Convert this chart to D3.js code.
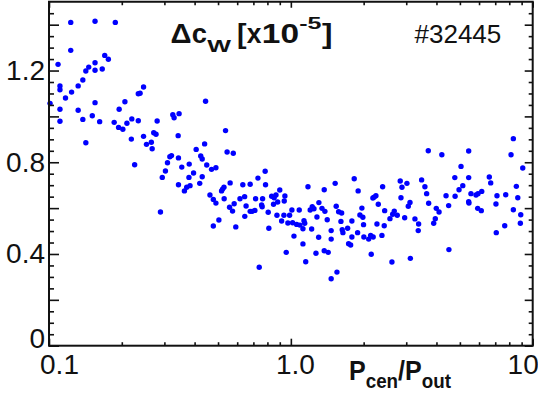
<!DOCTYPE html>
<html><head><meta charset="utf-8">
<script src="https://cdn.jsdelivr.net/npm/d3@7"></script>
<style>body{margin:0;background:#fff}svg{display:block}</style>
</head><body>
<svg id="c" width="538" height="398"></svg>
<script>
// ---- data ----
const pRatio = [
0.123,0.155,0.188,0.123,0.109,0.170,0.176,0.146,0.155,0.142,0.155,0.166,0.138,0.132,0.111,0.111,0.124,0.117,0.101,0.155,
0.111,0.132,0.151,0.111,0.138,0.162,0.142,0.246,0.234,0.238,0.206,0.195,0.220,0.234,0.186,0.194,0.202,0.210,0.280,0.325,
0.246,0.271,0.277,0.219,0.253,0.265,0.267,0.226,0.316,0.321,0.309,0.303,0.294,0.289,
0.444,0.329,0.345,0.342,0.537,0.440,0.406,0.545,0.578,0.343,0.424,0.430,0.354,0.380,0.449,0.470,0.490,0.396,0.379,0.430,
0.343,0.383,0.371,0.363,0.420,0.561,0.522,0.529,0.517,0.463,0.478,0.530,0.616,0.644,0.633,0.679,0.731,0.783,0.786,0.900,
0.833,0.868,0.853,0.945,0.715,0.764,
0.490,0.583,0.558,0.574,0.653,0.645,0.679,0.692,0.710,0.757,0.761,0.806,0.848,0.882,0.939,0.876,0.936,0.988,0.916,0.972,
1.017,1.010,1.030,0.957,0.740,0.504,0.478,0.592,0.811,
1.828,1.525,1.177,1.374,1.898,2.396,2.833,3.020,2.880,1.306,1.540,1.226,1.246,1.202,1.083,1.345,1.383,1.576,1.622,1.967,
2.184,2.248,2.211,2.299,2.853,3.059,2.443,2.677,2.636,2.754,2.956,2.569,1.282,1.930,1.985,1.414,1.611,1.788,1.057,1.090,
1.133,1.141,1.122,1.219,1.998,2.270,2.433,1.631,1.642,1.717,1.468,1.888,1.303,1.468,1.788,2.004,2.138,2.190,2.098,2.380,
1.122,1.733,1.767,1.270,1.374,1.427,2.150,1.152,2.618,3.120,1.551,1.468,
8.317,3.700,4.210,5.436,8.135,9.096,5.054,4.764,5.436,6.615,6.705,3.473,3.583,3.643,4.959,5.139,4.777,4.383,5.555,5.830,
5.940,6.155,5.436,5.450,5.923,6.131,7.118,7.735,8.558,8.675,7.049,8.317,8.925,8.892,7.662,7.069,3.109,3.714,3.993,4.100,
4.492,3.259,3.375,3.363,3.956,3.896,4.504
];
const deltaCw = [
1.410,1.415,1.410,1.288,1.227,1.266,1.249,1.215,1.234,1.198,1.201,1.207,1.159,1.133,1.133,1.116,1.106,1.080,1.057,1.060,
1.031,1.027,1.003,0.979,0.987,0.977,0.885,1.128,1.099,1.101,1.064,1.031,0.989,0.981,0.974,0.952,0.944,0.970,0.980,1.007,
0.913,0.929,0.922,0.901,0.878,0.887,0.859,0.789,0.824,0.829,0.798,0.762,0.734,0.583,
1.066,0.994,1.012,0.916,0.938,0.880,0.856,0.845,0.839,0.819,0.827,0.814,0.779,0.792,0.788,0.769,0.776,0.753,0.734,0.737,
0.702,0.698,0.691,0.675,0.708,0.710,0.683,0.691,0.675,0.657,0.638,0.641,0.641,0.650,0.702,0.704,0.731,0.761,0.702,0.679,
0.652,0.657,0.645,0.653,0.641,0.641,
0.622,0.619,0.604,0.587,0.609,0.564,0.586,0.586,0.590,0.614,0.606,0.582,0.617,0.627,0.631,0.569,0.569,0.569,0.544,0.535,
0.536,0.592,0.478,0.407,0.342,0.548,0.522,0.518,0.512,
0.728,0.708,0.693,0.680,0.675,0.693,0.718,0.708,0.691,0.624,0.608,0.606,0.597,0.592,0.592,0.599,0.586,0.584,0.579,0.600,
0.644,0.654,0.648,0.617,0.645,0.608,0.589,0.587,0.573,0.569,0.558,0.554,0.561,0.570,0.560,0.549,0.542,0.544,0.529,0.526,
0.545,0.534,0.510,0.509,0.528,0.531,0.523,0.506,0.493,0.512,0.502,0.493,0.473,0.465,0.474,0.474,0.481,0.474,0.465,0.481,
0.444,0.445,0.439,0.403,0.414,0.407,0.399,0.366,0.365,0.381,0.321,0.292,
0.903,0.850,0.833,0.849,0.833,0.775,0.782,0.733,0.733,0.736,0.710,0.723,0.693,0.663,0.680,0.698,0.652,0.654,0.663,0.657,
0.663,0.673,0.628,0.622,0.599,0.589,0.654,0.658,0.695,0.645,0.618,0.593,0.571,0.534,0.523,0.493,0.625,0.621,0.599,0.583,
0.611,0.553,0.531,0.502,0.554,0.534,0.419
];
const xMajorTicks = [0.1, 1, 10];
const xMajorLabels = ["0.1", "1.0", "10"];
const xMinorTicks = [0.2,0.3,0.4,0.5,0.6,0.7,0.8,0.9,2,3,4,5,6,7,8,9];
const yMajorTicks = [0, 0.4, 0.8, 1.2];
const yMajorLabels = ["0", "0.4", "0.8", "1.2"];
const yMidTicks = [0, 0.2, 0.4, 0.6, 0.8, 1.0, 1.2, 1.4];
const yMinorTicks = d3.range(0, 30).map(i => i * 0.05).filter(v => Math.abs(v / 0.2 - Math.round(v / 0.2)) > 1e-6);
const runLabel = "#32445";

// ---- layout ----
const FONT = "'Liberation Sans', Arial, Helvetica, sans-serif";
const L = 49, R = 532.7, T = 1.75, B = 345.7;
const svg = d3.select("#c");
const x = d3.scaleLog().domain([0.1, 10]).range([L, R]);
const y = d3.scaleLinear().domain([0, 1.5]).range([B, T]);

// points
svg.append("g").selectAll("circle")
  .data(d3.zip(pRatio, deltaCw))
  .join("circle")
  .attr("cx", d => x(d[0]))
  .attr("cy", d => y(d[1]))
  .attr("r", 2.7)
  .attr("fill", "#0000ff");

// frame
svg.append("rect").attr("x", L).attr("y", T).attr("width", R - L).attr("height", B - T)
  .attr("fill", "none").attr("stroke", "#111").attr("stroke-width", 2);

function ticks(axis, values, size, tr) {
  const g = svg.append("g").attr("transform", tr)
    .call(axis.tickValues(values).tickSize(size).tickFormat(""));
  g.select(".domain").remove();
  g.selectAll("line").attr("stroke", "#111").attr("stroke-width", 1.6);
  g.selectAll("text").remove();
}
ticks(d3.axisLeft(y), yMidTicks, -10, `translate(${L},0)`);
ticks(d3.axisLeft(y), yMinorTicks, -5, `translate(${L},0)`);
ticks(d3.axisRight(y), yMidTicks, -8, `translate(${R},0)`);
ticks(d3.axisRight(y), yMinorTicks, -4, `translate(${R},0)`);
ticks(d3.axisBottom(x), xMajorTicks, -7, `translate(0,${B})`);
ticks(d3.axisBottom(x), xMinorTicks, -3.5, `translate(0,${B})`);
ticks(d3.axisTop(x), xMajorTicks, -6, `translate(0,${T})`);
ticks(d3.axisTop(x), xMinorTicks, -3.5, `translate(0,${T})`);

// tick labels
const yLabelDy = [-7, 0, 0, 0];
const gy = svg.append("g").attr("transform", `translate(${L},0)`)
  .call(d3.axisLeft(y).tickValues(yMajorTicks).tickSize(0).tickPadding(4)
    .tickFormat((d, i) => yMajorLabels[i]));
gy.select(".domain").remove();
gy.selectAll("text").attr("font-family", FONT).attr("font-size", 28).attr("fill", "#111")
  .attr("y", (d, i) => yLabelDy[i]);

const xLabelDx = [10, 4, -10];
const gx = svg.append("g").attr("transform", `translate(0,${B})`)
  .call(d3.axisBottom(x).tickValues(xMajorTicks).tickSize(0).tickPadding(8.5)
    .tickFormat((d, i) => xMajorLabels[i]));
gx.select(".domain").remove();
gx.selectAll("text").attr("font-family", FONT).attr("font-size", 28).attr("fill", "#111")
  .attr("dx", (d, i) => xLabelDx[i]);

// text pieces fitted to the reference widths
function piece(str, x0, x1, base, size, weight) {
  svg.append("text").attr("x", x0).attr("y", base)
    .attr("font-family", FONT).attr("font-size", size).attr("font-weight", weight)
    .attr("fill", "#111")
    .attr("textLength", x1 - x0).attr("lengthAdjust", "spacingAndGlyphs")
    .text(str);
}
// title  Δc_W [x10^-5]
piece("\u0394", 170.5, 191.5, 43.3, 28, "bold");
piece("c", 191.8, 207, 43.3, 28, "bold");
piece("W", 207.3, 231, 52.3, 16, "bold");
piece("[", 237, 246.5, 43.3, 28, "bold");
piece("x", 246.8, 261.5, 43.3, 28, "bold");
piece("10", 261.8, 299, 43.3, 28, "bold");
piece("-5", 299.3, 321.5, 28.5, 17, "bold");
piece("]", 322, 332.5, 43.3, 28, "bold");
// run number
svg.append("text").attr("x", 414.5).attr("y", 43.3)
  .attr("font-family", FONT).attr("font-size", 26).attr("fill", "#111").text(runLabel);

// x-axis title  P_cen/P_out  (one text element, scaled to the reference width)
const xt = svg.append("text").attr("x", 0).attr("y", 0)
  .attr("font-family", FONT).attr("font-weight", "bold").attr("fill", "#111");
xt.append("tspan").attr("font-size", 28).text("P");
xt.append("tspan").attr("font-size", 21).attr("dy", 8).text("cen");
xt.append("tspan").attr("font-size", 28).attr("dy", -8).text("/P");
xt.append("tspan").attr("font-size", 21).attr("dy", 8).text("out");
const bb = xt.node().getBBox();
const sx = (451 - 349) / bb.width;
xt.attr("transform", `translate(${349 - bb.x * sx},380) scale(${sx},1)`);
</script>
</body></html>
